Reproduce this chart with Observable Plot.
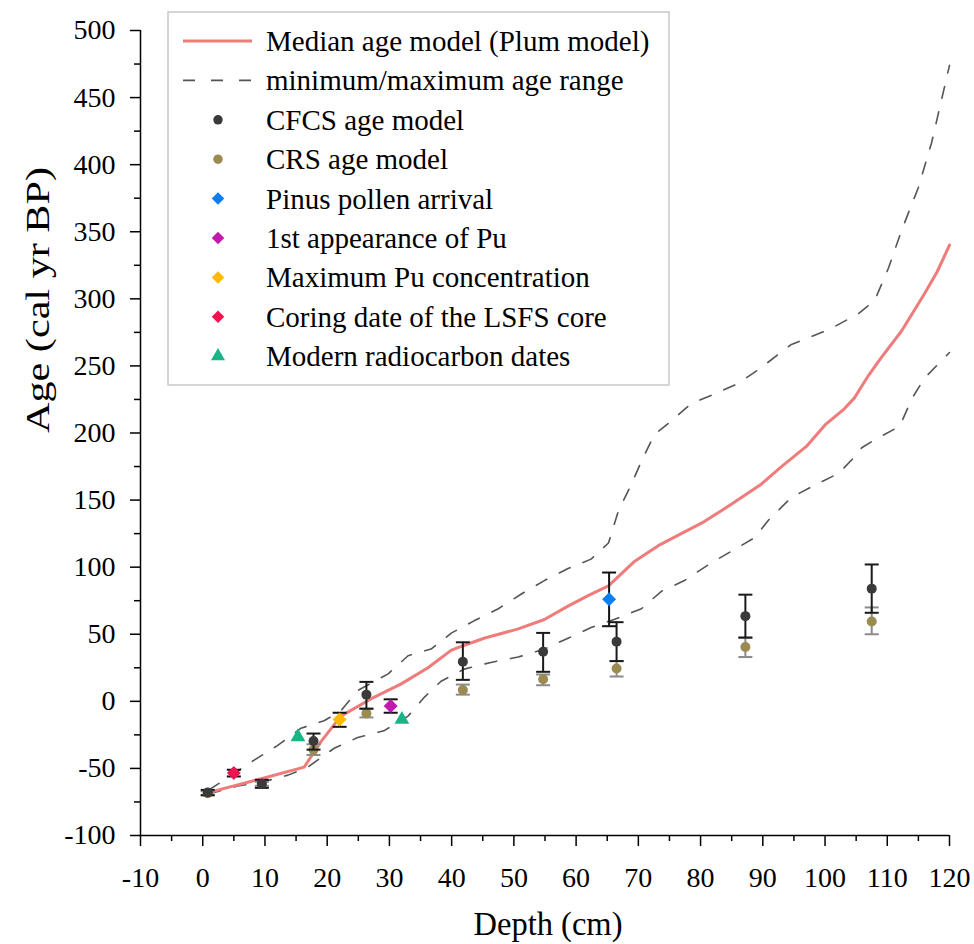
<!DOCTYPE html>
<html><head><meta charset="utf-8">
<script src="https://cdn.jsdelivr.net/npm/d3@7"></script>
<script src="https://cdn.jsdelivr.net/npm/@observablehq/plot@0.6"></script>
<style>
html,body{margin:0;padding:0;background:#fff;font-family:"Liberation Serif",serif;}
#chart{position:relative;width:974px;height:944px;}
#legend{position:absolute;left:167px;top:11px;}
svg text{font-family:"Liberation Serif",serif !important;}
</style></head><body><div id="chart"></div>
<script>
// ---- data ----
const medianDepth = [1, 5, 10, 16.3, 19, 22.2, 27.5, 31.9, 36.2, 39.9, 41, 45.2, 50.7, 54.9, 58.7, 62, 65.2, 69.3, 73.2, 80.6, 85, 89.8, 93, 97, 100, 103.1, 104.7, 107, 109, 112.3, 116, 118, 120];
const medianAge   = [-68, -63, -57, -49, -30, -11, 3, 13, 25, 38, 40, 47, 54, 61, 71, 79, 86, 104, 116, 134, 147, 162, 175, 190, 206, 218, 226, 243, 256, 276, 304, 320, 340];

const maxDepth = [1, 4, 8.2, 12, 15.8, 19.5, 22.2, 24.9, 29.8, 33, 36.7, 40, 43.6, 47.5, 51.2, 54.9, 58.7, 62.4, 65.2, 66.8, 68.9, 70.5, 72.6, 75.3, 78.5, 82.2, 86.1, 89.8, 94.6, 100.6, 105.4, 108, 110.2, 112.3, 115, 117.1, 118.7, 120];
const maxAge   = [-66, -57, -44, -33, -20, -14.5, -7, 8, 20.5, 34, 39, 51, 60, 69, 80, 90, 99, 106, 118, 142, 162, 179, 199, 209, 222, 229, 237, 249, 266, 277, 289, 299, 323, 351, 383, 416, 448, 474];

const minDepth = [1, 5.6, 9.3, 13.7, 16.9, 21.1, 24.9, 29.1, 33, 35.6, 38.3, 42, 46.3, 50.7, 54.9, 58.7, 62.4, 66.1, 70.5, 73.7, 77.4, 81.3, 85, 88.7, 90.9, 94.6, 98.3, 102.2, 104.7, 105.9, 108, 112, 114, 116, 120];
const minAge   = [-69, -63, -60.5, -55, -49, -35, -27, -22, -11, 3, 15, 24, 29, 33, 39, 47, 55, 61, 69, 82, 90, 102, 112, 122, 135, 152, 161, 170, 182, 189, 195, 205, 226, 241, 260];

const cfcsDepth = [0.8, 9.5, 17.8, 26.3, 41.8, 54.7, 66.5, 87.2, 107.5];
const cfcsAge   = [-68, -61.5, -29.5, 5, 29.5, 37, 44.5, 63.5, 84];
const cfcsLow   = [-70, -64.5, -36, -5.5, 16, 22, 30, 47.5, 66];
const cfcsHigh  = [-66, -58.5, -24, 14.5, 44, 51, 59, 79.5, 102];

const crsDepth = [0.8, 9.5, 17.8, 26.3, 41.8, 54.7, 66.5, 87.2, 107.5];
const crsAge   = [-68.5, -61.5, -36, -9, 8.5, 16.5, 24.5, 40.5, 59.5];
const crsLow   = [-70, -63, -40, -12, 5, 12, 18.5, 33, 50];
const crsHigh  = [-67, -60, -32, -5.5, 12.5, 20, 30, 47.5, 70];

const markerNames = ["Pinus pollen arrival", "1st appearance of Pu", "Maximum Pu concentration", "Coring date of the LSFS core"];
const markerDepth = [65.3, 30.2, 22, 5];
const markerAge   = [76, -3.5, -13.5, -53.5];
const markerLow   = [56, -8.5, -19, -56];
const markerHigh  = [96, 1.5, -8.5, -51];

const c14Depth = [15.3, 32];
const c14Age   = [-26.5, -13.5];

const xTicks = [-10, 0, 10, 20, 30, 40, 50, 60, 70, 80, 90, 100, 110, 120];
const xMinor = [-5, 5, 15, 25, 35, 45, 55, 65, 75, 85, 95, 105, 115];
const yTicks = [-100, -50, 0, 50, 100, 150, 200, 250, 300, 350, 400, 450, 500];
const yMinor = [-75, -25, 25, 75, 125, 175, 225, 275, 325, 375, 425, 475];

const legendLabels = ["Median age model (Plum model)", "minimum/maximum age range", "CFCS age model", "CRS age model", "Pinus pollen arrival", "1st appearance of Pu", "Maximum Pu concentration", "Coring date of the LSFS core", "Modern radiocarbon dates"];

// ---- styles ----
const FONT = "Liberation Serif";
const RED = "#ef7b7b", DASH = "#555555", CFCS = "#3a3a3a", CRS = "#9b8b50", GREEN = "#1ab587";
const markerPalette = ["#0b7ef0", "#c21ab0", "#ffba00", "#ee1450"];

// ---- tables ----
const zipLine = (xs, ys) => xs.map((d, i) => ({depth: d, age: ys[i]}));
const median = zipLine(medianDepth, medianAge);
const maxLine = zipLine(maxDepth, maxAge);
const minLine = zipLine(minDepth, minAge);
const cfcs = cfcsDepth.map((d, i) => ({depth: d, age: cfcsAge[i], lo: cfcsLow[i], hi: cfcsHigh[i]}));
const crs = crsDepth.map((d, i) => ({depth: d, age: crsAge[i], lo: crsLow[i], hi: crsHigh[i]}));
const markers = markerNames.map((n, i) => ({name: n, depth: markerDepth[i], age: markerAge[i], lo: markerLow[i], hi: markerHigh[i]}));
const c14 = zipLine(c14Depth, c14Age);

const capSymbol = {draw(ctx, size) { const w = Math.sqrt(size / Math.PI); ctx.moveTo(-w, 0); ctx.lineTo(w, 0); }};
const errorBars = (data, color) => [
  Plot.ruleX(data, {x: "depth", y1: "lo", y2: "hi", stroke: color, strokeWidth: 2}),
  Plot.dot(data, {x: "depth", y: "lo", symbol: capSymbol, r: 7, stroke: color, fill: "none", strokeWidth: 2}),
  Plot.dot(data, {x: "depth", y: "hi", symbol: capSymbol, r: 7, stroke: color, fill: "none", strokeWidth: 2})
];
const plain = d => `${d}`;

const plot = Plot.plot({
  width: 974, height: 944,
  marginLeft: 140, marginRight: 25, marginTop: 30, marginBottom: 109,
  x: {domain: [-10, 120], axis: null},
  y: {domain: [-100, 500], axis: null},
  color: {domain: markerNames, range: markerPalette},
  style: {fontFamily: FONT, fontSize: "28px", color: "#000", background: "#fff"},
  marks: [
    Plot.axisX(xMinor, {tickSize: 6, tickFormat: () => "", strokeWidth: 1.5, label: null}),
    Plot.axisX(xTicks, {tickSize: 11, tickPadding: 21, strokeWidth: 1.5, label: null, tickFormat: plain, fontFamily: FONT}),
    Plot.axisY(yMinor, {tickSize: 6, tickFormat: () => "", strokeWidth: 1.5, label: null}),
    Plot.axisY(yTicks, {tickSize: 10, tickPadding: 15, strokeWidth: 1.5, label: null, tickFormat: plain, fontFamily: FONT}),
    Plot.ruleX([-10], {strokeWidth: 1.5}),
    Plot.ruleY([-100], {strokeWidth: 1.5}),
    Plot.text(["Depth (cm)"], {frameAnchor: "bottom", dy: 89, dx: 3, fontSize: 34, lineAnchor: "middle", fontFamily: FONT}),
    Plot.text(["Age (cal yr BP)"], {frameAnchor: "left", dx: -102, rotate: -90, fontSize: 33, lineAnchor: "middle", fontFamily: FONT}),
    Plot.line(maxLine, {x: "depth", y: "age", stroke: DASH, strokeWidth: 1.6, strokeDasharray: "12,14"}),
    Plot.line(minLine, {x: "depth", y: "age", stroke: DASH, strokeWidth: 1.6, strokeDasharray: "12,14"}),
    Plot.line(median, {x: "depth", y: "age", stroke: RED, strokeWidth: 3}),
    ...errorBars(crs, "#8a8a8a"),
    Plot.dot(crs, {x: "depth", y: "age", r: 5, fill: CRS}),
    ...errorBars(cfcs, "#1a1a1a"),
    Plot.dot(cfcs, {x: "depth", y: "age", r: 5, fill: CFCS}),
    ...errorBars(markers, "#111"),
    Plot.dot(markers, {x: "depth", y: "age", r: 6.3, symbol: "diamond2", fill: "name"}),
    Plot.dot(c14, {x: "depth", y: "age", r: 5.5, symbol: "triangle", fill: GREEN})
  ]
});

d3.select(plot).selectAll("text").filter(function() { return this.textContent === "Age (cal yr BP)"; })
  .attr("textLength", 266).attr("lengthAdjust", "spacingAndGlyphs");
d3.select(plot).selectAll("text").filter(function() { return this.textContent === "Depth (cm)"; })
  .attr("textLength", 149).attr("lengthAdjust", "spacingAndGlyphs");
d3.select(plot).selectAll("text").attr("font-family", FONT);

const chart = document.getElementById("chart");
chart.appendChild(plot);

// ---- legend ----
const leg = d3.create("svg").attr("id", "legend").attr("width", 504).attr("height", 376)
  .attr("font-family", FONT);
leg.append("rect").attr("x", 1).attr("y", 1).attr("width", 501).attr("height", 373)
  .attr("fill", "#fff").attr("stroke", "#c8c8c8").attr("stroke-width", 1.5);
const symbolSpecs = [
  null, null,
  {type: d3.symbolCircle, size: 70, fill: CFCS},
  {type: d3.symbolCircle, size: 70, fill: CRS},
  {type: d3.symbolDiamond2, size: 100, fill: markerPalette[0]},
  {type: d3.symbolDiamond2, size: 100, fill: markerPalette[1]},
  {type: d3.symbolDiamond2, size: 100, fill: markerPalette[2]},
  {type: d3.symbolDiamond2, size: 100, fill: markerPalette[3]},
  {type: d3.symbolTriangle, size: 85, fill: GREEN}
];
legendLabels.forEach((label, i) => {
  const y = 30 + i * 39.4;
  if (i === 0) {
    leg.append("line").attr("x1", 16).attr("x2", 85).attr("y1", y).attr("y2", y).attr("stroke", RED).attr("stroke-width", 3);
  } else if (i === 1) {
    leg.append("line").attr("x1", 16).attr("x2", 85).attr("y1", y).attr("y2", y).attr("stroke", DASH).attr("stroke-width", 1.6).attr("stroke-dasharray", "12,16");
  } else {
    const s = symbolSpecs[i];
    leg.append("path").attr("d", d3.symbol(s.type, s.size)()).attr("transform", `translate(51,${y})`).attr("fill", s.fill);
  }
  leg.append("text").attr("x", 99).attr("y", y).attr("dominant-baseline", "central")
    .attr("font-size", 29).attr("font-family", FONT).attr("fill", "#000").text(label);
});
chart.appendChild(leg.node());
</script></body></html>
